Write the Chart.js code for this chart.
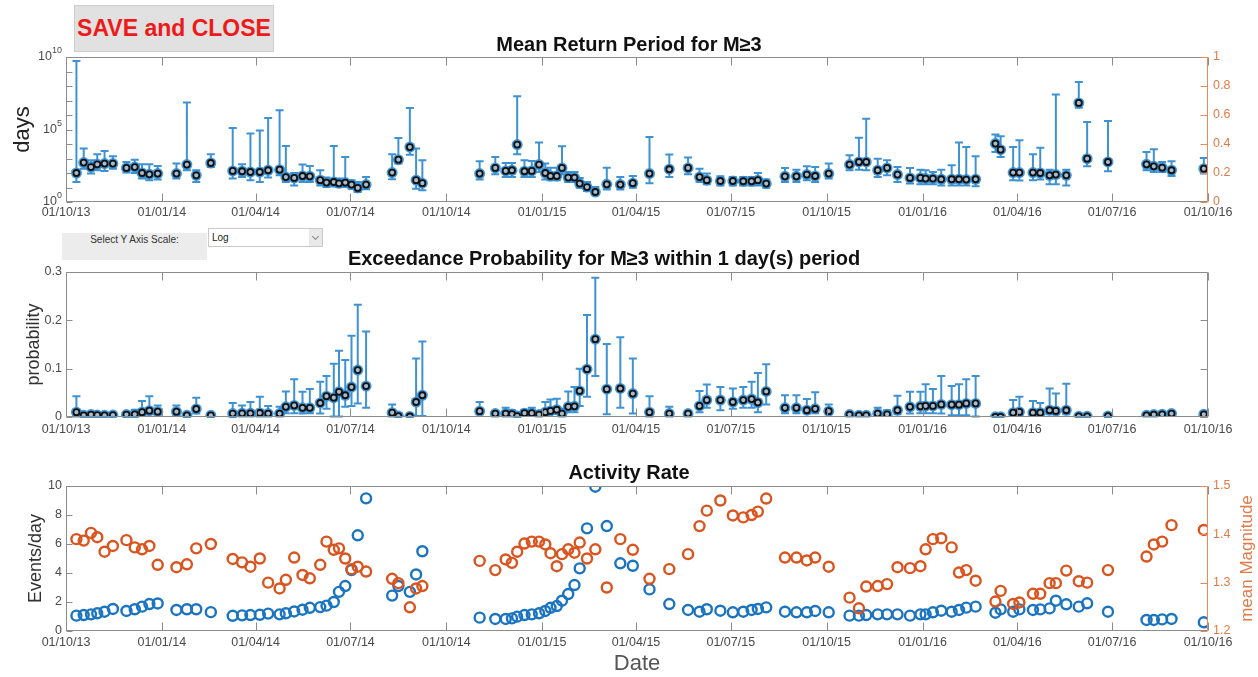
<!DOCTYPE html>
<html><head><meta charset="utf-8">
<script src="https://cdn.jsdelivr.net/npm/chart.js@4.4.1/dist/chart.umd.min.js"></script>
<style>
html,body{margin:0;padding:0;background:#fff;width:1258px;height:677px;overflow:hidden;font-family:"Liberation Sans",Arial,sans-serif;}
canvas{position:absolute;left:0;}
#btn{position:absolute;z-index:5;left:74px;top:5px;width:200px;height:47px;background:#e1e1e1;border:1px solid #cdcdcd;box-sizing:border-box;color:#ee1a1a;font-weight:bold;font-size:23px;line-height:45px;text-align:center;}
#panel{position:absolute;z-index:5;left:62px;top:233px;width:145px;height:27px;background:#ececec;}
#panel span{position:absolute;left:0;top:1px;width:145px;text-align:center;font-size:10px;color:#333;}
#dd{position:absolute;z-index:5;left:208px;top:228px;width:115px;height:19px;background:#fff;border:1px solid #c9c9c9;box-sizing:border-box;font-size:10px;line-height:17px;padding-left:3px;color:#222;}
#dd .arr{position:absolute;right:0;top:0;width:13px;height:17px;background:#e9e9e9;}
#dd .arr i{position:absolute;left:4px;top:5px;width:4px;height:4px;border-right:1px solid #888;border-bottom:1px solid #888;transform:rotate(45deg);}
</style></head>
<body>
<div id="btn">SAVE and CLOSE</div>
<div id="panel"><span>Select Y Axis Scale:</span></div>
<div id="dd">Log<div class="arr"><i></i></div></div>
<canvas id="c1" width="1258" height="200" style="top:30px"></canvas>
<canvas id="c2" width="1258" height="200" style="top:240px"></canvas>
<canvas id="c3" width="1258" height="227" style="top:450px"></canvas>
<script>
// ---- data (day offsets from 01/10/2013) ----
const dayOffsets = [10,17,24,30,37,45,58,66,73,80,88,106,116,125,139,160,169,177,186,194,
 205,211,219,227,234,244,250,257,262,268,274,280,288,313,319,330,336,342,
 397,412,422,428,433,440,447,454,460,465,471,476,482,488,493,500,508,519,532,544,
 560,579,597,608,615,628,640,650,658,664,672,690,701,711,719,732,752,761,768,779,
 788,798,810,820,825,832,840,850,857,864,873,892,897,909,915,928,935,944,950,960,
 972,980,1000,1037,1044,1052,1061,1092];
const xTickDays = [0,92,182,273,365,457,547,638,730,822,913,1004,1096];
const xTickLabels = ['01/10/13','01/01/14','01/04/14','01/07/14','01/10/14','01/01/15','01/04/15','01/07/15','01/10/15','01/01/16','01/04/16','01/07/16','01/10/16'];

const returnPeriod = [100,525,257,398,447,447,224,257,100,81,
 91,91,380,69,490,138,132,117,117,155,
 170,52,46,62,59,32,22,24,19.5,22,
 16,9.3,16,107,832,6170,32,20,
 91,224,138,155,9120,132,138,380,100,62,
 62,224,48,48,18.6,10.7,4.9,16.6,16,20,
 91,182,224,52,32,28,28,27,27,32,
 18.6,59,59,78,62,91,380,575,575,155,
 224,78,46,46,41,41,37,37,37,35,
 37,10700,4070,107,107,107,100,69,78,69,
 6.8e6,977,575,398,288,234,155,200];
const returnUpper = [5.2e9,4800,760,1950,3300,1410,575,832,398,398,
 302,447,7.2e6,155,1950,1.26e5,398,5.2e4,8.7e4,6.2e5,
 2.1e6,7240,100,380,302,155,48,7240,41,1260,
 32,24,52,1950,2.6e4,3.1e6,4800,760,
 646,1260,490,490,1.95e7,760,676,12600,447,234,
 234,6900,117,117,46,24,10.7,234,52,62,
 3.0e4,1860,1150,200,91,59,52,52,52,100,
 35,224,170,288,257,447,1660,2.75e4,5.6e5,977,
 760,257,224,170,155,117,170,339,12600,6170,
 1410,4.5e4,3.4e4,6170,1.8e4,1950,5600,170,2.6e7,170,
 1.9e8,3.3e5,3.9e5,2800,4300,575,646,1070];
const returnLower = [24,200,91,155,138,200,107,100,41,32,
 35,41,155,24,257,41,52,32,24,48,
 69,24,14,24,24,14,10.7,12,10.7,10.7,
 8.3,4.9,7.6,37,447,1780,8.3,6.5,
 35,81,52,52,1950,52,52,117,35,32,
 32,81,24,24,9.8,5.8,3.4,7.2,7.2,9.8,
 20,52,81,24,16.6,14,14,14,14,14,
 9.8,24,24,32,24,41,155,170,155,52,
 69,24,18.6,16.6,16.6,16.6,14,14,14,14,
 12,2800,1260,32,30,32,35,16.6,16.6,14,
 3.2e6,288,132,155,117,117,62,91];

const exceedProb = [0.010,0.0035,0.005,0.004,0.0035,0.004,0.005,0.0055,0.010,0.013,
 0.011,0.011,0.0035,0.0166,0.0035,0.007,0.0076,0.0076,0.0083,0.007,
 0.007,0.021,0.024,0.019,0.019,0.029,0.043,0.040,0.052,0.045,
 0.062,0.097,0.064,0.009,0.002,0.001,0.031,0.045,
 0.012,0.007,0.007,0.006,0.002,0.008,0.008,0.005,0.010,0.0125,
 0.015,0.007,0.021,0.022,0.054,0.099,0.161,0.0575,0.059,0.0485,
 0.010,0.007,0.007,0.023,0.035,0.035,0.031,0.035,0.037,0.030,
 0.053,0.019,0.019,0.014,0.017,0.012,0.005,0.0035,0.0035,0.007,
 0.0055,0.014,0.021,0.022,0.023,0.023,0.026,0.0256,0.0256,0.028,
 0.028,0.0003,0.0003,0.009,0.0104,0.009,0.009,0.014,0.0125,0.014,
 0.0014,0.0014,0.002,0.0035,0.005,0.0055,0.007,0.0055];
const exceedUpper = [0.043,0.007,0.008,0.008,0.007,0.008,0.009,0.015,0.033,0.043,
 0.024,0.024,0.007,0.040,0.006,0.029,0.024,0.031,0.042,0.023,
 0.021,0.053,0.078,0.052,0.058,0.073,0.085,0.110,0.137,0.118,
 0.168,0.232,0.177,0.026,0.007,0.004,0.121,0.156,
 0.031,0.011,0.019,0.014,0.005,0.015,0.019,0.012,0.031,0.036,
 0.038,0.017,0.053,0.062,0.100,0.211,0.288,0.151,0.165,0.121,
 0.043,0.021,0.011,0.054,0.067,0.062,0.059,0.062,0.073,0.091,
 0.109,0.045,0.045,0.037,0.051,0.026,0.008,0.006,0.006,0.019,
 0.014,0.044,0.052,0.052,0.068,0.058,0.085,0.064,0.068,0.078,
 0.085,0.001,0.001,0.035,0.042,0.033,0.029,0.059,0.0485,0.069,
 0.003,0.003,0.004,0.006,0.008,0.009,0.012,0.011];
const exceedLower = [0.001,0,0,0,0,0,0,0,0.0035,0.0055,
 0.0055,0.0035,0,0.007,0,0,0.001,0.001,0.001,0.001,
 0.001,0.008,0.008,0.007,0.008,0.007,0.017,0.001,0.001,0.021,
 0.023,0.028,0.019,0.001,0,0,0.002,0.002,
 0.0055,0.001,0.001,0.001,0,0.0035,0.0035,0.001,0.0055,0.007,
 0.008,0.001,0.010,0.010,0.023,0.042,0.085,0.0055,0.019,0.007,
 0.001,0.001,0.001,0.010,0.019,0.014,0.017,0.019,0.019,0.010,
 0.026,0.008,0.008,0.007,0.008,0.0055,0.001,0.001,0.001,0.002,
 0.002,0.0055,0.007,0.008,0.008,0.008,0.007,0.0035,0.0035,0.0035,
 0.001,0,0,0.0035,0.0035,0.0035,0.0035,0.0055,0.0055,0.0055,
 0,0,0,0.001,0.001,0.002,0.002,0.001];

const eventsPerDay = [1.06,1.1,1.15,1.22,1.33,1.52,1.38,1.5,1.68,1.86,
 1.9,1.45,1.5,1.5,1.3,1.05,1.08,1.1,1.12,1.2,
 1.15,1.22,1.35,1.47,1.6,1.65,1.75,2.0,2.7,3.1,
 4.2,6.6,9.15,2.44,3.1,2.7,3.9,5.5,
 0.92,0.83,0.83,0.87,0.99,1.1,1.15,1.22,1.38,1.6,
 1.72,2.09,2.55,3.17,4.32,7.08,9.95,7.24,4.67,4.5,
 2.87,1.86,1.45,1.33,1.5,1.4,1.29,1.33,1.45,1.52,
 1.63,1.33,1.29,1.29,1.38,1.29,1.06,1.06,1.1,1.15,
 1.15,1.15,1.06,1.15,1.15,1.29,1.40,1.33,1.45,1.61,
 1.68,1.26,1.49,1.33,1.49,1.45,1.49,1.56,2.09,1.84,
 1.68,1.91,1.33,0.76,0.76,0.8,0.83,0.6];
const meanMagnitude = [1.390,1.387,1.403,1.394,1.364,1.376,1.388,1.373,1.369,1.376,
 1.337,1.332,1.338,1.371,1.380,1.349,1.342,1.333,1.350,1.300,
 1.288,1.306,1.352,1.316,1.309,1.337,1.385,1.368,1.371,1.350,
 1.328,1.333,1.323,1.308,1.299,1.249,1.288,1.293,
 1.345,1.326,1.348,1.341,1.364,1.381,1.385,1.385,1.379,1.361,
 1.334,1.359,1.369,1.362,1.383,1.350,1.369,1.290,1.390,1.368,
 1.308,1.328,1.359,1.417,1.449,1.470,1.439,1.435,1.440,1.447,
 1.474,1.352,1.352,1.346,1.352,1.333,1.269,1.247,1.292,1.293,
 1.297,1.332,1.330,1.334,1.369,1.390,1.392,1.373,1.321,1.326,
 1.304,1.261,1.283,1.256,1.259,1.277,1.277,1.299,1.299,1.325,
 1.303,1.300,1.326,1.354,1.379,1.385,1.419,1.409];

const returnTicks = [1,10,100,1e3,1e4,1e5,1e6,1e7,1e8,1e9,1e10];
const returnTickBase = ['10','','','','','10','','','','','10'];
const returnTickExp  = ['0','','','','','5','','','','','10'];
const rightTicks = [0,0.2,0.4,0.6,0.8,1];
const rightTickLabels = ['0','0.2','0.4','0.6','0.8','1'];
const probTicks = [0,0.1,0.2,0.3];
const probTickLabels = ['0','0.1','0.2','0.3'];
const rateTicks = [0,2,4,6,8,10];
const rateTickLabels = ['0','2','4','6','8','10'];
const magTicks = [1.2,1.3,1.4,1.5];
const magTickLabels = ['1.2','1.3','1.4','1.5'];

// ---- styles ----
const FONT = '"Liberation Sans", Arial, sans-serif';
Chart.defaults.font.family = FONT;
const LABEL = '#4a4a4a', LINE = '#8c8c8c', ORANGE_AX = '#e58a5c', ORANGE_LB = '#e07a48';
const HALO = 'rgba(50,140,208,0.9)', ERR = '#3f92d2', BLUE = '#1b74c0', ORANGE = '#d9541e';

function fixedTicks(values){ return s => { s.ticks = values.map(v => ({value: v})); }; }
function pts(arr){ return dayOffsets.map((d,i) => ({x: d, y: arr[i]})); }

function xScale(height, pad, title){
  return {type:'linear', position:'bottom', min:0, max:1096,
    afterBuildTicks: fixedTicks(xTickDays), afterFit: s => { s.height = height; },
    ticks:{autoSkip:false, maxRotation:0, minRotation:0, padding:pad, color:LABEL, font:{size:12.5},
      callback:(v,i) => xTickLabels[i]},
    grid:{display:false, drawTicks:false}, border:{display:false},
    title: title || {display:false}};
}
function yScale(o){
  return Object.assign({position:'left', afterBuildTicks: fixedTicks(o.values), afterFit: s => { s.width = o.width; },
    ticks:{autoSkip:false, padding:o.pad, color:o.color || LABEL, font:{size:12.5}, callback:(v,i) => o.labels[i]},
    grid:{display:false, drawTicks:false}, border:{display:false}}, o.extra);
}

function makeErrorBars(lo, hi){
  return {id:'errorBars', beforeDatasetsDraw(chart){
    const xs = chart.scales.x, ys = chart.scales.y, ctx = chart.ctx;
    ctx.save(); ctx.strokeStyle = ERR; ctx.lineWidth = 2; ctx.beginPath();
    dayOffsets.forEach((d,i) => {
      const x = xs.getPixelForValue(d), y1 = ys.getPixelForValue(hi[i]), y2 = ys.getPixelForValue(lo[i]);
      ctx.moveTo(x, y1); ctx.lineTo(x, y2);
      ctx.moveTo(x-4, y1); ctx.lineTo(x+4, y1);
      ctx.moveTo(x-4, y2); ctx.lineTo(x+4, y2);
    });
    ctx.stroke(); ctx.restore();
  }};
}
function makeBox(cfg){
  return {id:'box', afterDatasetsDraw(chart){
    const {ctx, chartArea:a, scales} = chart;
    const L = Math.round(a.left)+0.5, R = Math.round(a.right)-0.5, T = Math.round(a.top)+0.5, B = Math.round(a.bottom)-0.5;
    ctx.save(); ctx.lineWidth = 1; ctx.strokeStyle = LINE; ctx.beginPath();
    ctx.moveTo(R, T); ctx.lineTo(L, T); ctx.lineTo(L, B); ctx.lineTo(R, B);
    scales.x.ticks.forEach(t => { const x = Math.round(scales.x.getPixelForValue(t.value))+0.5;
      ctx.moveTo(x, B); ctx.lineTo(x, B-8); ctx.moveTo(x, T); ctx.lineTo(x, T+8); });
    scales.y.ticks.forEach(t => { const y = Math.round(scales.y.getPixelForValue(t.value))+0.5;
      ctx.moveTo(L, y); ctx.lineTo(L+6, y); });
    ctx.stroke();
    ctx.beginPath(); ctx.strokeStyle = cfg.rightColor;
    ctx.moveTo(R, T); ctx.lineTo(R, B);
    const rs = cfg.rightScale ? scales[cfg.rightScale] : scales.y;
    rs.ticks.forEach(t => { const y = Math.round(rs.getPixelForValue(t.value))+0.5;
      ctx.moveTo(R, y); ctx.lineTo(R-7, y); });
    ctx.stroke(); ctx.restore();
  }};
}
// power-of-ten tick labels (base + raised exponent) placed by the log scale
const powerLabels = {id:'powerLabels', afterDraw(chart){
  const ys = chart.scales.y, ctx = chart.ctx, right = ys.right - 4;
  ctx.save(); ctx.fillStyle = LABEL; ctx.textBaseline = 'middle';
  returnTicks.forEach((v,i) => {
    if (!returnTickBase[i]) return;
    const y = ys.getPixelForValue(v);
    ctx.font = '9px ' + FONT; const ew = ctx.measureText(returnTickExp[i]).width;
    ctx.textAlign = 'left'; ctx.fillText(returnTickExp[i], right - ew, y - 6);
    ctx.font = '12.5px ' + FONT; ctx.textAlign = 'right'; ctx.fillText(returnTickBase[i], right - ew, y);
  });
  ctx.restore();
}};
const baseOpts = {responsive:false, animation:false, devicePixelRatio:1, events:[]};
function titleOpt(text, top, bottom){
  return {display:true, text, color:'#111', font:{size:20, weight:'bold'}, padding:{top, bottom}};
}

// ---- chart 1: mean return period ----
new Chart(document.getElementById('c1'), {type:'scatter',
  data:{datasets:[
    {data: pts(returnPeriod), pointRadius:5.5, pointBackgroundColor:HALO, pointBorderWidth:0, order:2},
    {data: pts(returnPeriod), pointRadius:3, pointBackgroundColor:'#a8bccd', pointBorderColor:'#111', pointBorderWidth:1.8, order:1}
  ]},
  options: Object.assign({}, baseOpts, {
    layout:{padding:0},
    plugins:{legend:{display:false}, tooltip:{enabled:false}, title: titleOpt('Mean Return Period for M\u22653', 3, 0)},
    scales:{
      x: xScale(28, 3.5),
      y: yScale({values:returnTicks, labels:returnTicks.map(() => ''), width:66, pad:4,
        extra:{type:'logarithmic', min:1, max:1e10,
          title:{display:true, text:'days', color:'#222', font:{size:22}, padding:{top:10, bottom:0}}}}),
      y2: yScale({values:rightTicks, labels:rightTickLabels, width:50, pad:5, color:ORANGE_LB,
        extra:{type:'linear', position:'right', min:0, max:1}})
    }
  }),
  plugins:[makeErrorBars(returnLower, returnUpper), makeBox({rightScale:'y2', rightColor:ORANGE_AX}), powerLabels]
});

// ---- chart 2: exceedance probability ----
new Chart(document.getElementById('c2'), {type:'scatter',
  data:{datasets:[
    {data: pts(exceedProb), pointRadius:5.5, pointBackgroundColor:HALO, pointBorderWidth:0, order:2},
    {data: pts(exceedProb), pointRadius:3, pointBackgroundColor:'#a8bccd', pointBorderColor:'#111', pointBorderWidth:1.8, order:1}
  ]},
  options: Object.assign({}, baseOpts, {
    layout:{padding:{left:0, right:50, top:0, bottom:0}},
    plugins:{legend:{display:false}, tooltip:{enabled:false},
      title: titleOpt('Exceedance Probability for M\u22653 within 1 day(s) period', 7, 1)},
    scales:{
      x: xScale(23, 5.5),
      y: yScale({values:probTicks, labels:probTickLabels, width:66, pad:4,
        extra:{type:'linear', min:0, max:0.3,
          title:{display:true, text:'probability', color:'#333', font:{size:18}, padding:{top:23, bottom:0}}}})
    }
  }),
  plugins:[makeErrorBars(exceedLower, exceedUpper), makeBox({rightColor:LINE})]
});

// ---- chart 3: activity rate ----
const magTitle = {id:'magTitle', afterDraw(chart){
  const {ctx, chartArea:a} = chart;
  ctx.save(); ctx.translate(1247, (a.top + a.bottom)/2); ctx.rotate(-Math.PI/2);
  ctx.font = '17px ' + FONT; ctx.fillStyle = ORANGE_LB; ctx.textAlign = 'center'; ctx.textBaseline = 'middle';
  ctx.fillText('mean Magnitude', 0, 0); ctx.restore();
}};
new Chart(document.getElementById('c3'), {type:'scatter',
  data:{datasets:[
    {data: pts(eventsPerDay), yAxisID:'y', pointRadius:5, pointBorderWidth:2.4, pointBorderColor:BLUE, pointBackgroundColor:'rgba(0,0,0,0)', order:2},
    {data: pts(meanMagnitude), yAxisID:'y2', pointRadius:5, pointBorderWidth:2.4, pointBorderColor:ORANGE, pointBackgroundColor:'rgba(0,0,0,0)', order:1}
  ]},
  options: Object.assign({}, baseOpts, {
    layout:{padding:0},
    plugins:{legend:{display:false}, tooltip:{enabled:false}, title: titleOpt('Activity Rate', 11, 1)},
    scales:{
      x: xScale(46, 4.5, {display:true, text:'Date', color:'#555', font:{size:22}, padding:{top:0, bottom:0}}),
      y: yScale({values:rateTicks, labels:rateTickLabels, width:66, pad:4,
        extra:{type:'linear', min:0, max:10,
          title:{display:true, text:'Events/day', color:'#333', font:{size:18}, padding:{top:25, bottom:0}}}}),
      y2: yScale({values:magTicks, labels:magTickLabels, width:50, pad:5, color:ORANGE_LB,
        extra:{type:'linear', position:'right', min:1.2, max:1.5}})
    }
  }),
  plugins:[makeBox({rightScale:'y2', rightColor:ORANGE_AX}), magTitle]
});
</script>
</body></html>
